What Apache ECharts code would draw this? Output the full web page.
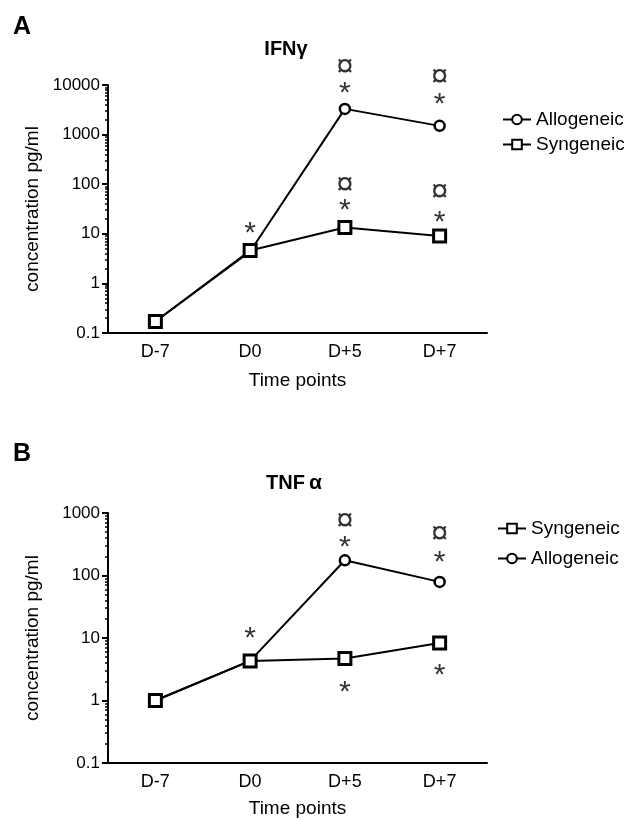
<!DOCTYPE html>
<html>
<head>
<meta charset="utf-8">
<script src="https://cdn.jsdelivr.net/npm/echarts@6.0.0/dist/echarts.min.js"></script>
<style>
  html, body { margin: 0; padding: 0; background: #fff; }
  #chart { width: 633px; height: 820px; }
</style>
</head>
<body>
<div id="chart"></div>
<script>
// time points on the x axis
var categories = ['D-7', 'D0', 'D+5', 'D+7'];

// IFNy concentrations (pg/ml), panel A
var ifnAllogeneic = [0.17, 4.4, 3300, 1500];
var ifnSyngeneic = [0.17, 4.6, 13.4, 9];

// TNFa concentrations (pg/ml), panel B
var tnfAllogeneic = [1.0, 4.3, 175, 79];
var tnfSyngeneic = [1.0, 4.3, 4.7, 8.3];

// significance marks: [time point, value, symbol]
var ifnMarks = [
  ['D0', 13, '*'],
  ['D+5', 8975, '*'], ['D+5', 23400, '¤'],
  ['D+7', 5225, '*'], ['D+7', 15200, '¤'],
  ['D+5', 38, '*'], ['D+5', 100, '¤'],
  ['D+7', 22, '*'], ['D+7', 73, '¤']
];
var tnfMarks = [
  ['D0', 12, '*'],
  ['D+5', 344, '*'], ['D+5', 763, '¤'],
  ['D+7', 203, '*'], ['D+7', 467, '¤'],
  ['D+5', 1.69, '*'],
  ['D+7', 3.1, '*']
];

var FONT = '"Liberation Sans", Arial, sans-serif';

var chart = echarts.init(document.getElementById('chart'));

function xAxisFor(gridIndex, gap) {
  return {
    type: 'category',
    gridIndex: gridIndex,
    data: categories,
    name: 'Time points',
    nameLocation: 'middle',
    nameGap: gap,
    nameTextStyle: { fontFamily: FONT, fontSize: 19, color: '#000' },
    axisLine: { lineStyle: { color: '#000', width: 2 } },
    axisTick: { alignWithLabel: true, length: 6, lineStyle: { color: '#000', width: 2 } },
    axisLabel: { fontFamily: FONT, fontSize: 18, color: '#000', margin: 10 },
    splitLine: { show: false }
  };
}

function yAxisFor(gridIndex, max) {
  return {
    type: 'log',
    gridIndex: gridIndex,
    logBase: 10,
    min: 0.1,
    max: max,
    name: 'concentration pg/ml',
    nameLocation: 'middle',
    nameGap: 66,
    nameTextStyle: { fontFamily: FONT, fontSize: 19, color: '#000' },
    axisLine: { show: true, lineStyle: { color: '#000', width: 2 } },
    axisTick: { show: true, length: 6, lineStyle: { color: '#000', width: 2 } },
    minorTick: { show: true, splitNumber: 9, length: 3, lineStyle: { color: '#000', width: 1.5 } },
    axisLabel: {
      fontFamily: FONT, fontSize: 17, color: '#000', margin: 8,
      formatter: function (v) { return String(+v.toPrecision(6)); }
    },
    splitLine: { show: false },
    minorSplitLine: { show: false }
  };
}

function lineSeries(name, data, idx, symbol) {
  var isCircle = symbol === 'circle';
  return {
    name: name,
    type: 'line',
    xAxisIndex: idx,
    yAxisIndex: idx,
    data: data,
    symbol: symbol,
    symbolSize: isCircle ? 10 : 12,
    showAllSymbol: true,
    lineStyle: { color: '#000', width: 2 },
    itemStyle: { color: '#fff', borderColor: '#000', borderWidth: isCircle ? 2.5 : 3 },
    emphasis: { disabled: true },
    z: isCircle ? 3 : 4
  };
}

function markSeries(marks, idx) {
  return {
    type: 'scatter',
    xAxisIndex: idx,
    yAxisIndex: idx,
    data: marks.map(function (m) { return [m[0], m[1], m[2]]; }),
    symbolSize: 0,
    clip: false,
    silent: true,
    label: {
      show: true,
      position: 'inside',
      color: '#000',
      fontFamily: FONT,
      formatter: function (p) { return p.value[2] === '*' ? '{s|*}' : '{c|¤}'; },
      rich: {
        s: { fontSize: 30, fontFamily: FONT, color: '#000', padding: [12, 0, 0, 0] },
        c: { fontSize: 31, fontFamily: FONT, color: '#000', padding: [2, 0, 0, 0] }
      }
    }
  };
}

function legendFor(top, order, gap, left) {
  return {
    orient: 'vertical',
    left: left,
    top: top,
    data: order,
    itemGap: gap,
    itemWidth: 28,
    itemHeight: 12,
    selectedMode: false,
    textStyle: { fontFamily: FONT, fontSize: 19, color: '#000' }
  };
}

var option = {
  animation: false,
  backgroundColor: '#fff',
  title: [
    { text: 'A', left: 8, top: 10, textStyle: { fontFamily: FONT, fontSize: 25, fontWeight: 'bold', color: '#000' } },
    { text: 'IFNγ', left: 281, top: 34, textAlign: 'center', textStyle: { fontFamily: FONT, fontSize: 20, fontWeight: 'bold', color: '#000' } },
    { text: 'B', left: 8, top: 437, textStyle: { fontFamily: FONT, fontSize: 25, fontWeight: 'bold', color: '#000' } },
    {
      text: '{b|TNF}{a|α}', left: 289, top: 468, textAlign: 'center',
      textStyle: {
        rich: {
          b: { fontFamily: FONT, fontSize: 20, fontWeight: 'bold', color: '#000' },
          a: { fontFamily: FONT, fontSize: 21, color: '#000', padding: [0, 0, 0, 4] }
        }
      }
    }
  ],
  legend: [
    legendFor(105, ['Allogeneic', 'Syngeneic'], 6, 497),
    legendFor(514, ['Syngeneic', 'Allogeneic'], 11, 492)
  ],
  grid: [
    { left: 108, top: 85, width: 379, height: 248 },
    { left: 108, top: 513, width: 379, height: 250 }
  ],
  xAxis: [xAxisFor(0, 38), xAxisFor(1, 36)],
  yAxis: [yAxisFor(0, 10000), yAxisFor(1, 1000)],
  series: [
    lineSeries('Allogeneic', ifnAllogeneic, 0, 'circle'),
    lineSeries('Syngeneic', ifnSyngeneic, 0, 'rect'),
    markSeries(ifnMarks, 0),
    lineSeries('Allogeneic', tnfAllogeneic, 1, 'circle'),
    lineSeries('Syngeneic', tnfSyngeneic, 1, 'rect'),
    markSeries(tnfMarks, 1)
  ]
};

chart.setOption(option);
</script>
</body>
</html>
